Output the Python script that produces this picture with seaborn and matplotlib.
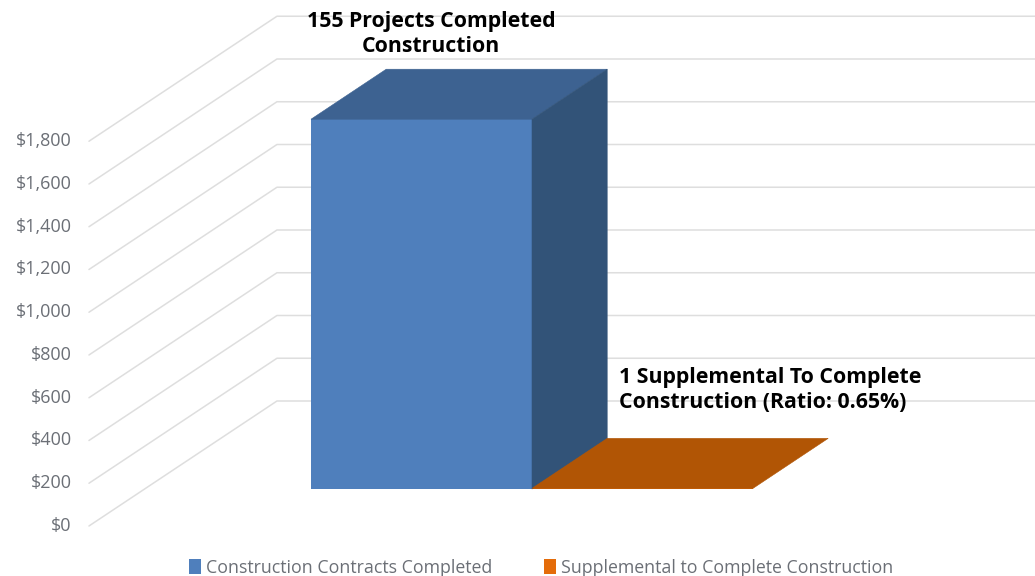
import pandas as pd
import seaborn as sns
import matplotlib
matplotlib.use('Agg')
import matplotlib.pyplot as plt
from matplotlib.patches import Polygon

# Values
categories = ['Construction Contracts Completed', 'Supplemental to Complete Construction']
amounts = [1730, 3]
tick_values = [0, 200, 400, 600, 800, 1000, 1200, 1400, 1600, 1800]
tick_labels = ['$0', '$200', '$400', '$600', '$800', '$1,000', '$1,200', '$1,400', '$1,600', '$1,800']
note_1 = '155 Projects Completed\nConstruction'
note_2 = '1 Supplemental To Complete\nConstruction (Ratio: 0.65%)'

sns.set_theme(style='white')
plt.rcParams['font.family'] = ['Open Sans', 'DejaVu Sans']

W, H = 1035, 576
fig = plt.figure(figsize=(W / 100, H / 100), dpi=100)
ax = fig.add_axes([0, 0, 1, 1])

# Axes scale: one bar slot is 221 px wide, $200 is 42.75 px high
x_unit = 221.0
y_unit = 42.75 / 200

# Oblique depth: t=0 front of the floor, t=1 back wall, bars stand at t_bar
depth_x = 188 / x_unit
depth_y = 125 / y_unit
t_bar = 37 / 125
t_depth = 50 / 125
wall_x = (144.6 - 421.5) / x_unit


def shift(x, v, t):
    return x + (t - t_bar) * depth_x, v + (t - t_bar) * depth_y


df = pd.DataFrame({'category': categories, 'amount': amounts})
sns.barplot(data=df, x='category', y='amount', hue='category',
            palette=['#4F7FBC', '#E46C0A'], saturation=1, width=1, gap=0,
            dodge=False, legend=True, ax=ax, zorder=3, linewidth=0)
ax.set_xlim((0 - 421.5) / x_unit, (W - 421.5) / x_unit)
ax.set_ylim((489 - H) / y_unit, 489 / y_unit)

# Wall lines and tick labels
grid_color = '#DEDEDE'
for v, lab in zip(tick_values, tick_labels):
    x0, y0 = shift(wall_x, v, 0)
    x1, y1 = shift(wall_x, v, 1)
    ax.plot([x0, x1, ax.get_xlim()[1]], [y0, y1, y1], color=grid_color, lw=1.1, zorder=1)
    ax.annotate(lab, (x0, y0), xytext=(-12.5, 0), textcoords='offset points',
                ha='right', va='center', fontsize=13, color='#6B6F76')

# Top and side faces of the bars
tops = ['#3D6291', '#B15505']
for bar, top in zip(ax.patches, tops):
    x_a = bar.get_x()
    x_b = x_a + bar.get_width()
    v = bar.get_height()
    dx = t_depth * depth_x
    dy = t_depth * depth_y
    ax.add_patch(Polygon([(x_a, v), (x_b, v), (x_b + dx, v + dy), (x_a + dx, v + dy)],
                         facecolor=top, edgecolor=top, lw=0.4, zorder=3))
    if top == tops[0]:
        ax.add_patch(Polygon([(x_b, 0), (x_b, v), (x_b + dx, v + dy), (x_b + dx, dy)],
                             facecolor='#325378', edgecolor='#325378', lw=0.4, zorder=3))

# Notes
ax.text((431 - 421.5) / x_unit, (489 - 34) / y_unit, note_1, ha='center', va='center',
        fontsize=15.3, fontweight='bold', color='black', linespacing=1.24, zorder=5)
ax.text((619 - 421.5) / x_unit, (489 - 390) / y_unit, note_2, ha='left', va='center',
        fontsize=15.3, fontweight='bold', color='black', linespacing=1.24, zorder=5)

sns.move_legend(ax, 'center', bbox_to_anchor=(541 / W, 1 - 568 / H), ncol=2, frameon=False,
                title=None, fontsize=12.8, handlelength=0.7, handleheight=0.9,
                handletextpad=0.28, columnspacing=2.9, labelcolor='#6B6F76')

ax.set_xlabel('')
ax.set_ylabel('')
ax.set_xticks([])
ax.set_yticks([])
sns.despine(ax=ax, left=True, bottom=True)

fig.savefig('out.png', dpi=100)
